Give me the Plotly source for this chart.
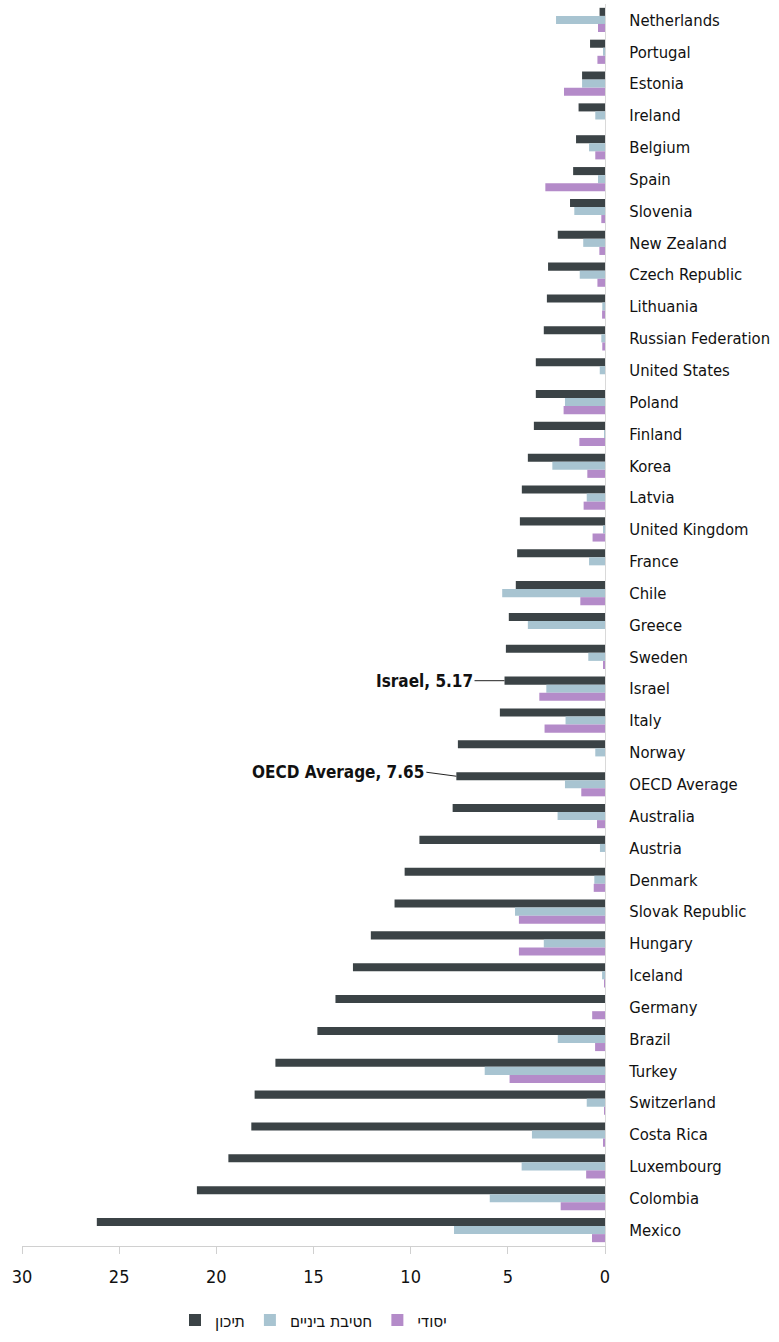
import plotly.graph_objects as go

countries = ["Netherlands", "Portugal", "Estonia", "Ireland", "Belgium", "Spain", "Slovenia",
             "New Zealand", "Czech Republic", "Lithuania", "Russian Federation", "United States",
             "Poland", "Finland", "Korea", "Latvia", "United Kingdom", "France", "Chile", "Greece",
             "Sweden", "Israel", "Italy", "Norway", "OECD Average", "Australia", "Austria",
             "Denmark", "Slovak Republic", "Hungary", "Iceland", "Germany", "Brazil", "Turkey",
             "Switzerland", "Costa Rica", "Luxembourg", "Colombia", "Mexico"]

high_school = [0.28, 0.77, 1.18, 1.36, 1.49, 1.64, 1.80, 2.43, 2.93, 2.99, 3.15, 3.56, 3.56,
               3.66, 3.97, 4.28, 4.38, 4.52, 4.59, 4.95, 5.10, 5.17, 5.41, 7.57, 7.65, 7.84,
               9.55, 10.31, 10.83, 12.05, 12.97, 13.87, 14.80, 16.96, 18.03, 18.20, 19.38,
               21.00, 26.15]
middle_school = [2.52, 0.09, 1.18, 0.50, 0.82, 0.36, 1.58, 1.12, 1.30, 0.14, 0.19, 0.27, 2.06,
                 0.05, 2.71, 0.94, 0.09, 0.82, 5.29, 3.97, 0.86, 3.02, 2.03, 0.50, 2.06, 2.44,
                 0.26, 0.55, 4.63, 3.15, 0.15, 0.0, 2.43, 6.19, 0.94, 3.76, 4.29, 5.93, 7.77]
elementary = [0.36, 0.39, 2.11, 0.0, 0.50, 3.07, 0.19, 0.29, 0.39, 0.15, 0.14, 0.0, 2.13,
              1.32, 0.91, 1.10, 0.64, 0.0, 1.27, 0.0, 0.09, 3.38, 3.11, 0.0, 1.22, 0.41,
              0.0, 0.58, 4.43, 4.43, 0.05, 0.66, 0.51, 4.91, 0.05, 0.10, 0.97, 2.28, 0.67]

series_names = ["תיכון", "חטיבת ביניים", "יסודי"]
colors = ["#3b4346", "#a8c4d1", "#b48bc9"]

fig = go.Figure()
for name, vals, col in zip(series_names, [high_school, middle_school, elementary], colors):
    fig.add_trace(go.Bar(
        y=countries, x=vals, name=name, orientation="h",
        marker=dict(color=col, line=dict(width=0)),
    ))

label_font = "DejaVu Sans Condensed, Liberation Sans Narrow, sans-serif"

fig.add_annotation(x=5.17, y="Israel", yshift=8, ax=-30, ay=0, xanchor="right",
                   text="<b>Israel, 5.17</b>", showarrow=True, arrowhead=0, arrowwidth=1,
                   arrowcolor="#222", font=dict(family=label_font, size=17, color="#111"))
fig.add_annotation(x=7.65, y="OECD Average", yshift=8, ax=-30, ay=-4, xanchor="right",
                   text="<b>OECD Average, 7.65</b>", showarrow=True, arrowhead=0, arrowwidth=1,
                   arrowcolor="#222", font=dict(family=label_font, size=17, color="#111"))

fig.update_layout(
    width=779, height=1342,
    margin=dict(l=22, r=174, t=4, b=86),
    barmode="group", bargap=0.24, bargroupgap=0,
    plot_bgcolor="white", paper_bgcolor="white",
    font=dict(family=label_font, size=17, color="#111"),
    legend=dict(orientation="h", x=0.5, xanchor="center", y=-0.060, yanchor="middle",
                font=dict(size=17), traceorder="normal"),
    xaxis=dict(range=[30, 0], dtick=5, showgrid=False, zeroline=False, automargin=False,
               showline=True, linecolor="#d0d0d0", linewidth=1,
               ticks="outside", ticklen=7, tickcolor="#d0d0d0", ticklabelstandoff=7,
               tickfont=dict(size=18, color="#111")),
    yaxis=dict(autorange="reversed", side="right", showgrid=False, automargin=False,
               showline=True, linecolor="#d9d9d9", linewidth=1,
               ticks="", ticklabelstandoff=20,
               tickfont=dict(size=16.5, color="#111")),
)

fig.write_html("out.html", config={"displayModeBar": False},
               post_script="document.body.style.margin='0';")
